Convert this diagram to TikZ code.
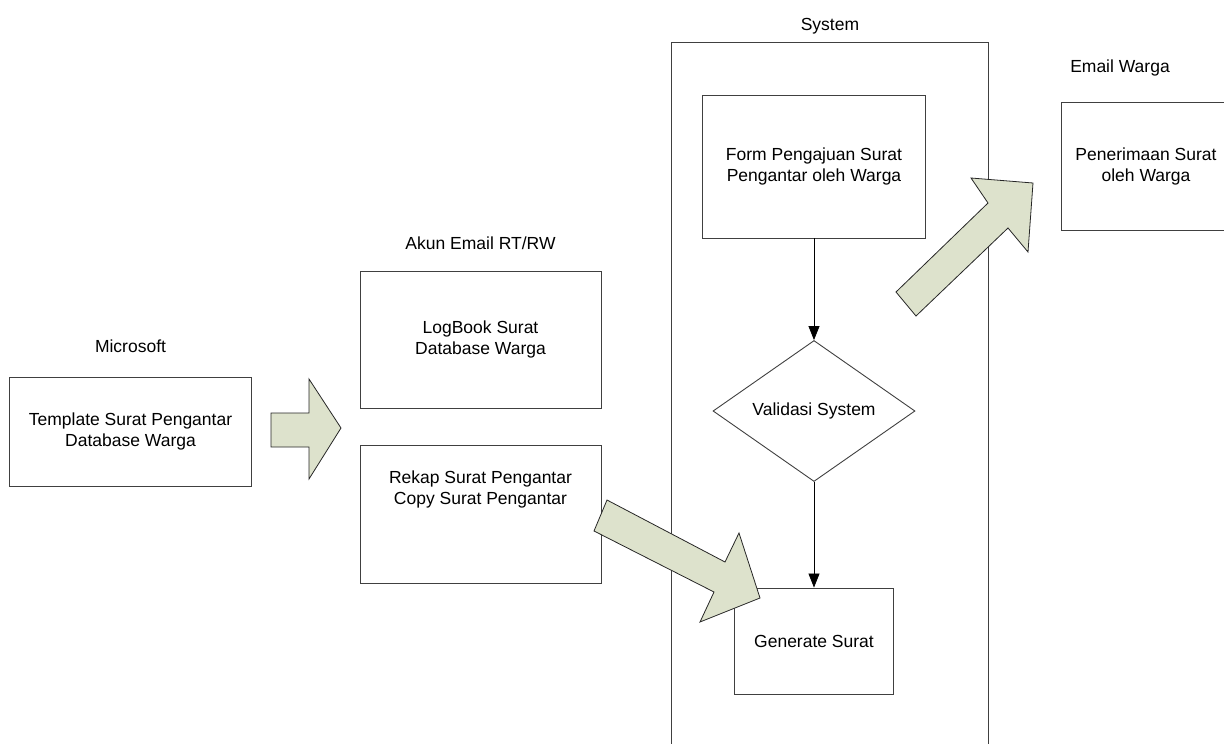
\documentclass[tikz,border=0pt]{standalone}
\usepackage{fontspec}
\setmainfont{Liberation Sans}
\usetikzlibrary{shapes.geometric,arrows.meta,positioning}
\definecolor{blockfill}{RGB}{221,226,204}
\tikzset{
        box/.style={draw=black!75, line width=0.9pt, align=center, inner sep=0pt},
        flow/.style={-{Triangle[width=11pt,length=14pt]}, line width=0.8pt},
        blockarrow/.style={draw=black!85, line width=0.8pt, fill=blockfill, line join=miter}
}

\begin{document}
\begin{tikzpicture}[x=1pt, y=-1pt, font=\fontsize{17.5}{21}\selectfont]
        \useasboundingbox (0,0) rectangle (1224,744);
        \node[box, minimum width=242, minimum height=109] (tmpl) at (130.5,431.5) {Template Surat Pengantar\\Database Warga};
        \node[above=20pt of tmpl] (micro) {Microsoft};
        \node[box, minimum width=241, minimum height=137] (logbook) at (480.5,339.5) {LogBook Surat\\Database Warga};
        \node[above=17pt of logbook] (akun) {Akun Email RT/RW};
        \node[box, minimum width=241, minimum height=138] (rekap) at (480.5,514) {};
        \node[align=center] (rekaptxt) at ([yshift=25pt]rekap.center) {Rekap Surat Pengantar\\Copy Surat Pengantar};
        \node[box, anchor=north west, minimum width=317, minimum height=740] (system) at (671,41.5) {};
        \node[above=4pt of system.north] (sys) {System};
        \node[box, minimum width=223, minimum height=143] (form) at (814,166.5) {Form Pengajuan Surat\\Pengantar oleh Warga};
        \node[box, diamond, minimum width=202, minimum height=141] (valid) at (814,411) {Validasi System};
        \node[box, minimum width=159, minimum height=106] (gen) at (814,641) {Generate Surat};
        \node[box, anchor=north west, minimum width=200, minimum height=128] (terima) at (1061,102) {};
        \node[align=center] (terimatxt) at (1146,166) {Penerimaan Surat\\oleh Warga};
        \node[above=22pt of terima.north west, xshift=59pt] (email) {Email Warga};
        \draw[flow] (form.south) -- (valid.north);
        \draw[flow] (valid.south) -- (gen.north);
        \draw[blockarrow] (271,413) -- (309,413) -- (309,379) -- (341,428) -- (309,479) -- (309,447) -- (271,447) -- cycle;
        \draw[blockarrow] (607,500) -- (725,562) -- (739,533) -- (760,598) -- (700,622) -- (714,592) -- (594,531) -- cycle;
        \draw[blockarrow] (896,292) -- (988,203) -- (971,178) -- (1033,183) -- (1028,252) -- (1008,228) -- (916,316) -- cycle;
\end{tikzpicture}
\end{document}
